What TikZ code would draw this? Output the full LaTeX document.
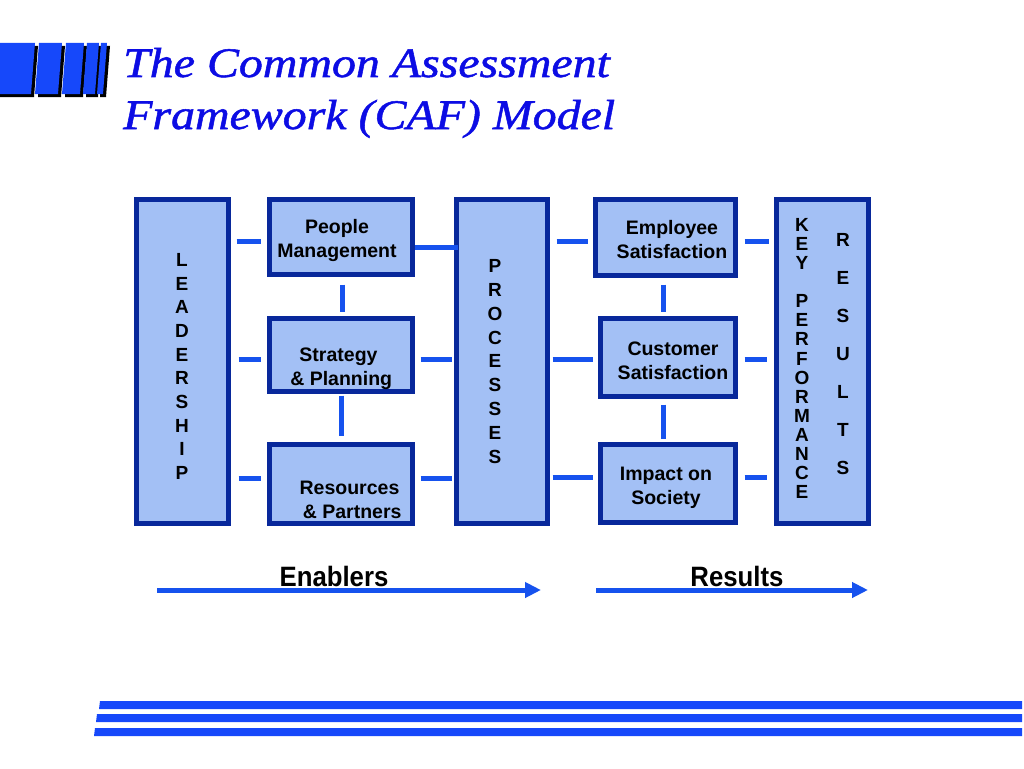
\documentclass[tikz,border=0pt]{standalone}
\usepackage{fontspec}
\setmainfont{Liberation Sans}
\newfontfamily\titlefont[FakeStretch=1.14,FakeBold=1.2]{Liberation Serif}
\newfontfamily\narrowfont[FakeStretch=0.92]{Liberation Sans}
\usetikzlibrary{arrows.meta}
\definecolor{boxfill}{RGB}{163,192,245}
\definecolor{boxline}{RGB}{8,40,155}
\definecolor{connblue}{RGB}{22,82,238}
\definecolor{titleblue}{RGB}{12,12,228}
\definecolor{barblue}{RGB}{22,72,250}
\begin{document}
\begin{tikzpicture}[x=1pt,y=-1pt,
  box/.style={draw=boxline,line width=5pt,fill=boxfill,inner sep=0pt},
  link/.style={draw=connblue,line width=5pt},
  lbl/.style={font=\fontsize{19.5}{24}\selectfont\bfseries,align=center,inner sep=0pt},
  col/.style={font=\fontsize{19}{#1}\selectfont\bfseries,align=center,inner sep=0pt},
  bigl/.style={font=\narrowfont\fontsize{28}{30}\selectfont\bfseries,inner sep=0pt,anchor=base},
  ttl/.style={font=\titlefont\itshape\fontsize{42}{48}\selectfont,text=titleblue,anchor=base west,inner sep=0pt},
  bar/.style={fill=barblue},
  shadow/.style={fill=black}]
\fill[white] (0,0) rectangle (1024,768);
\useasboundingbox (0,0) rectangle (1024,768);

% logo
\foreach \a/\b in {-4/35,39/62,66/84,87/99,101/107}{
  \fill[shadow] ({\a+3},46) -- ({\b+3},46) -- ({\b-1},97) -- ({\a-1},97) -- cycle;
}
\foreach \a/\b in {-4/35,39/62,66/84,87/99,101/107}{
  \fill[bar] (\a,43) -- (\b,43) -- ({\b-4},94) -- ({\a-4},94) -- cycle;
}

% title
\node[ttl] (t1) at (123,77) {The Common Assessment};
\node[ttl] (t2) at (123,129) {Framework (CAF) Model};

% boxes
\node[box,minimum width=92pt,minimum height=324pt] (lead) at (182.5,361.5) {};
\node[box,minimum width=143pt,minimum height=75pt] (pm) at (341,237) {};
\node[box,minimum width=143pt,minimum height=73pt] (strat) at (341,355) {};
\node[box,minimum width=143pt,minimum height=79pt] (res) at (341,484) {};
\node[box,minimum width=91pt,minimum height=324pt] (proc) at (502,361.5) {};
\node[box,minimum width=140pt,minimum height=76pt] (emp) at (665.5,237.5) {};
\node[box,minimum width=135pt,minimum height=78pt] (cust) at (668,357.5) {};
\node[box,minimum width=135pt,minimum height=78pt] (imp) at (668,483.5) {};
\node[box,minimum width=92pt,minimum height=324pt] (kpr) at (822.5,361.5) {};

% row / column reference coordinates
\coordinate (ya) at (0,241);
\coordinate (yb) at (0,247);
\coordinate (yc) at (0,359);
\coordinate (yd) at (0,478);
\coordinate (ye) at (0,477);
\coordinate (xa) at (342,0);
\coordinate (xb) at (341,0);
\coordinate (xc) at (663,0);

% connectors
\draw[link] ([xshift=5.5pt]lead.east |- ya) -- ([xshift=-6.5pt]pm.west |- ya);
\draw[link] (pm.east |- yb) -- ([xshift=3.5pt]proc.west |- yb);
\draw[link] ([yshift=-7.5pt]pm.south -| xa) -- ([yshift=4.5pt]strat.north -| xa);
\draw[link] ([xshift=7.5pt]lead.east |- yc) -- ([xshift=-6.5pt]strat.west |- yc);
\draw[link] ([xshift=5.5pt]strat.east |- yc) -- ([xshift=-2.5pt]proc.west |- yc);
\draw[link] ([yshift=-1.5pt]strat.south -| xb) -- ([yshift=6.5pt]res.north -| xb);
\draw[link] ([xshift=7.5pt]lead.east |- yd) -- ([xshift=-6.5pt]res.west |- yd);
\draw[link] ([xshift=5.5pt]res.east |- yd) -- ([xshift=-2.5pt]proc.west |- yd);
\draw[link] ([xshift=6.5pt]proc.east |- ya) -- ([xshift=-5.5pt]emp.west |- ya);
\draw[link] ([xshift=6.5pt]emp.east |- ya) -- ([xshift=-5.5pt]kpr.west |- ya);
\draw[link] ([yshift=-6.5pt]emp.south -| xc) -- ([yshift=4.5pt]cust.north -| xc);
\draw[link] ([xshift=2.5pt]proc.east |- yc) -- ([xshift=-5.5pt]cust.west |- yc);
\draw[link] ([xshift=6.5pt]cust.east |- yc) -- ([xshift=-7.5pt]kpr.west |- yc);
\draw[link] ([yshift=-5.5pt]cust.south -| xc) -- ([yshift=3.5pt]imp.north -| xc);
\draw[link] ([xshift=2.5pt]proc.east |- ye) -- ([xshift=-5.5pt]imp.west |- ye);
\draw[link] ([xshift=6.5pt]imp.east |- ye) -- ([xshift=-7.5pt]kpr.west |- ye);

% box texts
\node[lbl] (pmt) at (337,240) {People\\Management};
\node[lbl] (stt) at (338.5,369) {Strategy\\\ \& Planning};
\node[lbl] (rst) at (349.5,500) {Resources\\\ \& Partners};
\node[lbl] (empt) at (672,240) {Employee\\Satisfaction};
\node[lbl] (cstt) at (673,361) {Customer\\Satisfaction};
\node[lbl] (impt) at (666,487.5) {Impact on\\Society};

% vertical words
\node[col=23.7pt] (leadt) at (182,366.5) {L\\E\\A\\D\\E\\R\\S\\H\\I\\P};
\node[col=23.9pt] (proct) at (495,361.5) {P\\R\\O\\C\\E\\S\\S\\E\\S};
\node[col=19.07pt] (kpt) at (802,358.5) {K\\E\\Y\\[19.07pt]P\\E\\R\\F\\O\\R\\M\\A\\N\\C\\E};
\node[col=38pt] (rest) at (843,354) {R\\E\\S\\U\\L\\T\\S};

% bottom arrows
\coordinate (e1) at (157,590);
\coordinate (e2) at (541,590);
\coordinate (r1) at (596,590);
\coordinate (r2) at (868,590);
\draw[link,-{Triangle[length=16pt,width=15pt]}] (e1) -- (e2);
\draw[link,-{Triangle[length=16pt,width=15pt]}] (r1) -- (r2);
\node[bigl] (ent) at (334,586) {Enablers};
\node[bigl] (rtt) at (737,586) {Results};

% bottom stripes
\fill[bar] (100,701) -- (1022,701) -- (1022,709) -- (99,709) -- cycle;
\fill[bar] (97,714) -- (1022,714) -- (1022,722) -- (96,722) -- cycle;
\fill[bar] (95,728) -- (1022,728) -- (1022,736) -- (94,736) -- cycle;
\end{tikzpicture}
\end{document}
